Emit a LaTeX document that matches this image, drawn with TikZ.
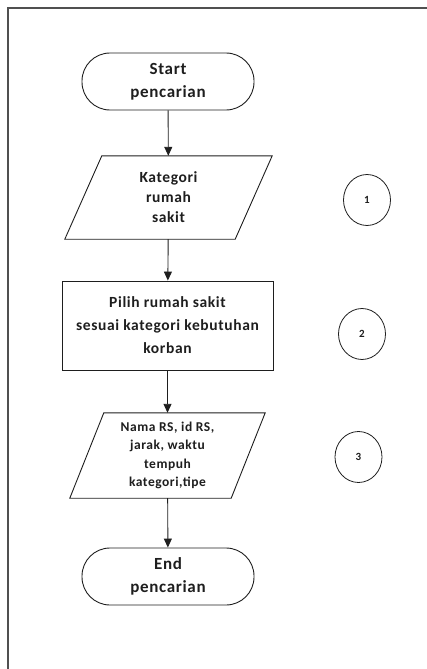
\documentclass[tikz,border=0pt]{standalone}
\usepackage{fontspec}
\setmainfont{Carlito}[LetterSpace=4]
\usetikzlibrary{arrows.meta,shapes.geometric}
\definecolor{ink}{HTML}{1E1E1E}
\definecolor{framegray}{HTML}{505050}
\begin{document}
\begin{tikzpicture}[x=1pt,y=-1pt,
  every node/.style={text=ink, font=\bfseries},
  terminal/.style={draw=ink, line width=0.9pt, rounded corners=28pt,
    minimum width=172pt, minimum height=57pt, align=center,
    font=\bfseries\fontsize{17}{23}\selectfont},
  % text holder of a parallelogram; its outline is drawn below
  iobox/.style={inner sep=0pt, align=center},
  procbox/.style={draw=ink, line width=0.9pt, minimum width=211pt,
    minimum height=89pt, align=center,
    font=\bfseries\fontsize{15.5}{23}\selectfont},
  marker/.style={draw=ink, line width=0.8pt, ellipse, minimum width=47pt,
    minimum height=51pt, inner sep=0pt,
    font=\bfseries\fontsize{11}{13}\selectfont},
  outline/.style={draw=ink, line width=0.9pt, line join=miter},
  flow/.style={draw=ink, line width=0.9pt, -{Triangle[width=8pt,length=9pt]}}
]
\useasboundingbox (0,0) rectangle (427,669);

% frame edges
\draw[framegray, line width=2pt] (8,669) -- (8,8) -- (427,8);

% flow chart
\node[terminal] (start) at (168,81.5) {Start\\pencarian};
\node[iobox, minimum width=207pt, minimum height=83pt,
  font=\bfseries\fontsize{15.5}{20}\selectfont] (kat) at (168.5,197.5)
  {Kategori\\rumah\\sakit};
\draw[outline] ([xshift=37pt]kat.north west) -- (kat.north east)
  -- ([xshift=-37pt]kat.south east) -- (kat.south west) -- cycle;
\node[procbox] (pilih) at (167.5,325.5)
  {Pilih rumah sakit\\sesuai kategori kebutuhan\\korban};
\node[iobox, minimum width=195pt, minimum height=85pt,
  font=\bfseries\fontsize{13.5}{18.5}\selectfont] (hasil) at (167.5,455.5)
  {Nama RS, id RS,\\jarak, waktu\\tempuh\\kategori,tipe};
\draw[outline] ([xshift=34pt]hasil.north west) -- (hasil.north east)
  -- ([xshift=-34pt]hasil.south east) -- (hasil.south west) -- cycle;
\node[terminal] (end) at (168,576.5) {End\\pencarian};

\draw[flow] (start) -- (kat);
\draw[flow] (kat) -- (pilih);
\draw[flow] (pilih) -- (hasil);
\draw[flow] (hasil) -- (end);

% step markers
\node[marker] (m1) at (367,200) {1};
\node[marker] (m2) at (362,334) {2};
\node[marker] (m3) at (358.5,457) {3};
\end{tikzpicture}
\end{document}
